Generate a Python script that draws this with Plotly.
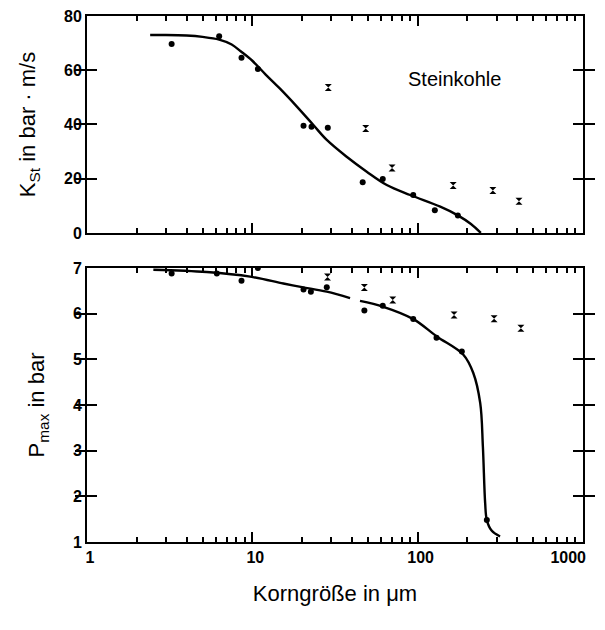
import plotly.graph_objects as go
from plotly.subplots import make_subplots

# ---- data ----
# top panel: K_St in bar·m/s
kst_dot_x = [3.25, 6.3, 8.6, 10.8, 20.4, 22.8, 28.6, 46.5, 61.5, 94, 127, 175]
kst_dot_y = [69.7, 72.5, 64.6, 60.5, 39.5, 39.2, 38.8, 18.7, 19.9, 14.0, 8.4, 6.4]
kst_x_x = [28.8, 48.5, 70, 164, 285, 410]
kst_x_y = [53.6, 38.5, 24.0, 17.5, 15.7, 11.7]
kst_curve_x = [2.41, 3.0, 4.0, 5.0, 6.3, 7.5, 8.5, 10, 12, 14.7, 18.6, 23.4, 28.2, 37.2,
               49.2, 65, 90, 137, 175, 210, 241]
kst_curve_y = [73.0, 73.0, 72.8, 72.3, 71.3, 69.5, 67.0, 63.5, 58.5, 53.2, 46.6, 39.8,
               34.3, 28.1, 22.6, 17.7, 14.0, 9.7, 6.5, 3.3, 0.0]

# bottom panel: P_max in bar
p_dot_x = [3.25, 6.1, 8.6, 10.8, 20.4, 22.6, 28.2, 47.6, 61.5, 94, 130, 185, 262]
p_dot_y = [6.88, 6.88, 6.72, 7.0, 6.53, 6.48, 6.58, 6.07, 6.17, 5.88, 5.47, 5.17, 1.48]
p_x_x = [28.5, 47.6, 70.7, 166, 290, 421]
p_x_y = [6.80, 6.57, 6.30, 5.97, 5.89, 5.68]
p_curve1_x = [2.52, 5.3, 9.7, 15.4, 20.0, 28.2, 39.0]
p_curve1_y = [6.96, 6.91, 6.81, 6.66, 6.58, 6.48, 6.34]
p_curve2_x = [44.8, 62, 94.2, 130.5, 189, 217, 239, 248, 256, 262, 280, 315]
p_curve2_y = [6.28, 6.15, 5.88, 5.50, 5.10, 4.70, 4.04, 3.09, 1.85, 1.48, 1.25, 1.12]

major_ticks = [1, 10, 100, 1000]
major_labels = ["1", "10", "100", "1000" + "\u00a0" * 8]
minor_ticks = [m * d for d in (1, 10, 100) for m in range(2, 10)]

fig = make_subplots(rows=2, cols=1, shared_xaxes=False, vertical_spacing=0.0665,
                    row_heights=[0.4125, 0.521])

line_style = dict(color="black", width=2.4)
dot_style = dict(symbol="circle", size=6, color="black")
x_style = dict(symbol="hourglass", size=7, color="black")

fig.add_trace(go.Scatter(x=kst_curve_x, y=kst_curve_y, mode="lines", line=line_style,
                         line_shape="spline", showlegend=False), row=1, col=1)
fig.add_trace(go.Scatter(x=kst_dot_x, y=kst_dot_y, mode="markers", marker=dot_style,
                         showlegend=False), row=1, col=1)
fig.add_trace(go.Scatter(x=kst_x_x, y=kst_x_y, mode="markers", marker=x_style,
                         showlegend=False), row=1, col=1)

fig.add_trace(go.Scatter(x=p_curve1_x, y=p_curve1_y, mode="lines", line=line_style,
                         line_shape="spline", showlegend=False), row=2, col=1)
fig.add_trace(go.Scatter(x=p_curve2_x, y=p_curve2_y, mode="lines", line=line_style,
                         line_shape="spline", showlegend=False), row=2, col=1)
fig.add_trace(go.Scatter(x=p_dot_x, y=p_dot_y, mode="markers", marker=dot_style,
                         showlegend=False), row=2, col=1)
fig.add_trace(go.Scatter(x=p_x_x, y=p_x_y, mode="markers", marker=x_style,
                         showlegend=False), row=2, col=1)

font_family = "Arial, Liberation Sans, sans-serif"
tick_font = dict(size=16, color="black", family=font_family, weight="bold")
title_font = dict(size=22, color="black", family=font_family)


def xaxis_spec(**extra):
    d = dict(type="log", range=[0, 3], tickmode="array", tickvals=major_ticks,
             ticktext=major_labels, ticks="inside", ticklen=10, tickwidth=2,
             tickcolor="black", showline=True, linecolor="black", linewidth=2,
             mirror="allticks", showgrid=False, zeroline=False, automargin=False,
             ticklabeloverflow="allow")
    d.update(extra)
    return d


def yaxis_spec(**extra):
    d = dict(ticks="inside", ticklen=10, tickwidth=2, tickcolor="black",
             showline=True, linecolor="black", linewidth=2, mirror="allticks",
             showgrid=False, zeroline=False, automargin=False, tickfont=tick_font,
             ticklabeloverflow="allow")
    d.update(extra)
    return d


# overlay axes that carry only the short minor ticks of the log scale
def minor_spec(anchor, overlay):
    return dict(type="log", range=[0, 3], tickmode="array", tickvals=minor_ticks,
                ticks="inside", ticklen=5, tickwidth=1.5, tickcolor="black",
                showticklabels=False, showline=False, mirror="allticks",
                showgrid=False, zeroline=False, automargin=False,
                anchor=anchor, overlaying=overlay)


fig.update_layout(
    xaxis=xaxis_spec(showticklabels=False),
    xaxis2=xaxis_spec(tickfont=tick_font, ticklabelshift=3,
                      title=dict(text="Korngröße in μm", standoff=20, font=title_font)),
    xaxis3=minor_spec("y", "x"),
    xaxis4=minor_spec("y2", "x2"),
    yaxis=yaxis_spec(range=[0, 80], tickmode="array", tickvals=[0, 20, 40, 60, 80],
                     title=dict(text="K<sub>St</sub> in bar · m/s", standoff=22,
                                font=title_font)),
    yaxis2=yaxis_spec(range=[1, 7], tickmode="array", tickvals=[1, 2, 3, 4, 5, 6, 7],
                      title=dict(text="P<sub>max</sub> in bar", standoff=22,
                                 font=title_font)),
)
# invisible traces so the overlay axes get drawn
fig.add_trace(go.Scatter(x=[1], y=[None], xaxis="x3", yaxis="y", showlegend=False,
                         hoverinfo="skip"))
fig.add_trace(go.Scatter(x=[1], y=[None], xaxis="x4", yaxis="y2", showlegend=False,
                         hoverinfo="skip"))

fig.add_annotation(text="Steinkohle", xref="paper", yref="paper",
                   x=(454 - 87) / 496, y=1 - (79 - 16) / 526, showarrow=False,
                   xanchor="center", yanchor="middle",
                   font=dict(size=20, color="black", family=font_family))

# page body has an 8 px margin at top/left, so the figure is 8 px smaller
fig.update_layout(template="none", width=597, height=622,
                  margin=dict(l=79, r=22, t=8, b=88, autoexpand=False),
                  plot_bgcolor="white", paper_bgcolor="white",
                  font=dict(family=font_family, color="black"))

fig.write_html("out.html")
